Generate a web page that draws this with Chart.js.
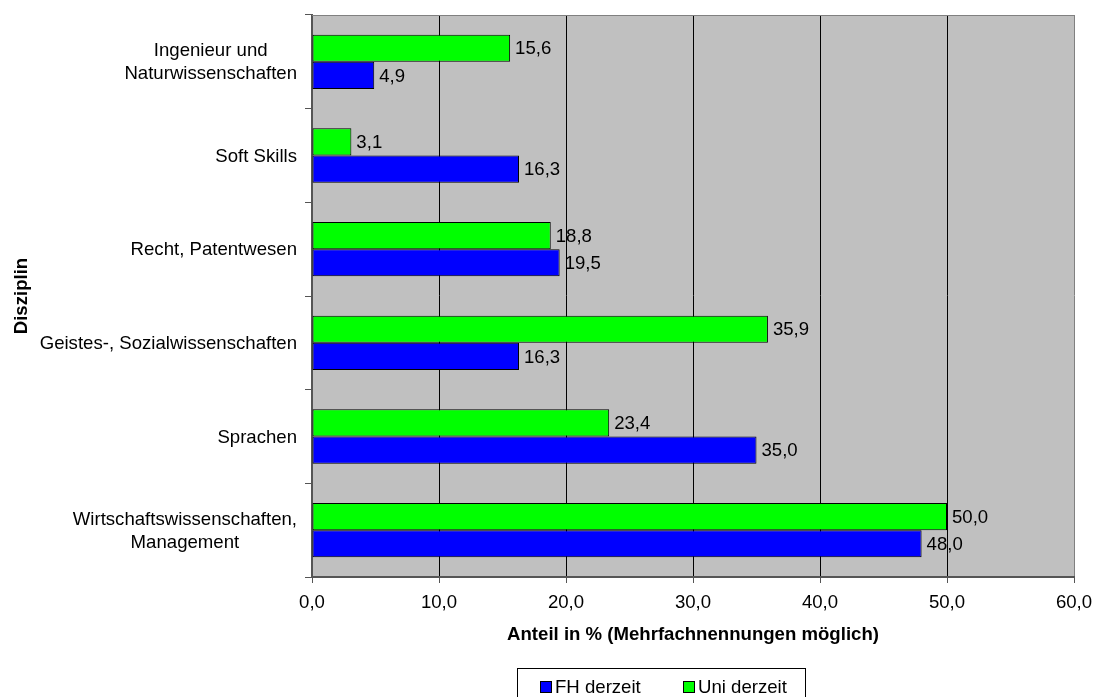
<!DOCTYPE html>
<html>
<head>
<meta charset="utf-8">
<script src="https://cdn.jsdelivr.net/npm/chart.js@4.4.0/dist/chart.umd.min.js"></script>
<style>
  body { margin: 0; background: #fff; }
  #wrap { width: 1094px; height: 697px; position: relative; }
</style>
</head>
<body>
<div id="wrap"><canvas id="myChart"></canvas></div>
<script>
var categories = [
    ["Ingenieur und", "Naturwissenschaften"],
    ["Soft Skills"],
    ["Recht, Patentwesen"],
    ["Geistes-, Sozialwissenschaften"],
    ["Sprachen"],
    ["Wirtschaftswissenschaften,", "Management"]
];
var fhValues  = [4.9, 16.3, 19.5, 16.3, 35.0, 48.0];
var uniValues = [15.6, 3.1, 18.8, 35.9, 23.4, 50.0];
var xTicks = [0, 10, 20, 30, 40, 50, 60];

var FONT = "'Liberation Sans', Arial, sans-serif";
var FS = 18.6;
Chart.defaults.font.family = FONT;
Chart.defaults.font.size = FS;
Chart.defaults.color = "#000";

function fmt(v) {
    return Number(v).toFixed(1).replace('.', ',');
}

// grey plot background + top border
var plotBg = {
    id: 'plotBg',
    beforeDraw: function(chart) {
        var a = chart.chartArea, c = chart.ctx;
        c.save();
        c.fillStyle = "#C0C0C0";
        c.fillRect(a.left, a.top, a.right - a.left, a.bottom - a.top);
        c.restore();
    },
    afterDraw: function(chart) {
        var a = chart.chartArea, c = chart.ctx;
        c.save();
        c.strokeStyle = "#808080";
        c.lineWidth = 1;
        c.beginPath();
        c.moveTo(a.left, a.top + 0.5);
        c.lineTo(a.right, a.top + 0.5);
        c.stroke();
        c.restore();
    }
};

// value labels at bar ends
var valueLabels = {
    id: 'valueLabels',
    afterDatasetsDraw: function(chart) {
        var c = chart.ctx;
        c.save();
        c.font = FS + "px " + FONT;
        c.fillStyle = "#000";
        c.textAlign = "left";
        c.textBaseline = "middle";
        chart.data.datasets.forEach(function(ds, i) {
            chart.getDatasetMeta(i).data.forEach(function(bar, j) {
                c.fillText(fmt(ds.data[j]), bar.x + 5, bar.y + 1);
            });
        });
        c.restore();
    }
};

// category labels: right aligned block, lines centered inside it
var catLabels = {
    id: 'catLabels',
    afterDraw: function(chart) {
        var c = chart.ctx, y = chart.scales.y;
        var right = 297, lh = 23;
        c.save();
        c.font = FS + "px " + FONT;
        c.fillStyle = "#000";
        c.textAlign = "center";
        c.textBaseline = "middle";
        categories.forEach(function(lines, i) {
            var w = 0;
            lines.forEach(function(l) { w = Math.max(w, c.measureText(l).width); });
            var cy = y.getPixelForValue(i);
            var y0 = cy - (lines.length - 1) * lh / 2;
            lines.forEach(function(l, k) {
                c.fillText(l, right - w / 2, y0 + k * lh + 1);
            });
        });
        c.restore();
    }
};

// framed legend under the axis title
var boxLegend = {
    id: 'boxLegend',
    afterDraw: function(chart) {
        var c = chart.ctx;
        var items = [
            { text: chart.data.datasets[1].label, color: chart.data.datasets[1].backgroundColor, x: 540 },
            { text: chart.data.datasets[0].label, color: chart.data.datasets[0].backgroundColor, x: 683 }
        ];
        var cy = 687;
        c.save();
        c.strokeStyle = "#000";
        c.lineWidth = 1;
        c.strokeRect(517.5, 668.5, 288, 40);
        c.font = FS + "px " + FONT;
        c.textBaseline = "middle";
        c.textAlign = "left";
        items.forEach(function(it) {
            c.fillStyle = it.color;
            c.fillRect(it.x, cy - 6, 12, 12);
            c.strokeRect(it.x + 0.5, cy - 5.5, 11, 11);
            c.fillStyle = "#000";
            c.fillText(it.text, it.x + 15, cy + 1);
        });
        c.restore();
    }
};

var ctx = document.getElementById("myChart").getContext("2d");

var data = {
    labels: categories,
    datasets: [
        {
            label: "Uni derzeit",
            backgroundColor: "#00FF00",
            borderColor: "#000",
            borderWidth: 1,
            borderSkipped: false,
            data: uniValues
        },
        {
            label: "FH derzeit",
            backgroundColor: "#0000FF",
            borderColor: "#000",
            borderWidth: 1,
            borderSkipped: false,
            data: fhValues
        }
    ]
};

var config = {
    type: 'bar',
    data: data,
    plugins: [plotBg, valueLabels, catLabels, boxLegend],
    options: {
        indexAxis: 'y',
        responsive: true,
        maintainAspectRatio: false,
        animation: false,
        categoryPercentage: 0.58,
        barPercentage: 1.0,
        layout: { padding: { top: 15, right: 20, left: 0, bottom: 0 } },
        plugins: {
            legend: { display: false },
            tooltip: { enabled: false }
        },
        scales: {
            x: {
                min: 0,
                max: 60,
                afterBuildTicks: function(scale) {
                    scale.ticks = xTicks.map(function(v) { return { value: v }; });
                },
                afterFit: function(scale) {
                    scale.height = 120;
                    scale.paddingLeft = 0;
                    scale.paddingRight = 0;
                },
                ticks: {
                    callback: function(v) { return fmt(v); },
                    padding: 9,
                    maxRotation: 0
                },
                grid: {
                    color: function(c) { return c.tick && c.tick.value === 60 ? "#808080" : "#000"; },
                    tickColor: "#555",
                    tickLength: 6,
                    lineWidth: 1
                },
                border: { color: "#555", width: 2 },
                title: {
                    display: true,
                    text: "Anteil in % (Mehrfachnennungen möglich)",
                    font: { size: FS, weight: 'bold' },
                    padding: { top: 0, bottom: 51 }
                }
            },
            y: {
                afterFit: function(scale) {
                    scale.width = 312;
                    scale.paddingTop = 0;
                    scale.paddingBottom = 0;
                },
                ticks: { display: false },
                grid: {
                    drawOnChartArea: false,
                    tickColor: "#555",
                    tickLength: 7
                },
                border: { color: "#555", width: 2 },
                title: {
                    display: true,
                    text: "Disziplin",
                    font: { size: FS, weight: 'bold' },
                    padding: { top: 11, bottom: 0 }
                }
            }
        }
    }
};

var myChart = new Chart(ctx, config);
</script>
</body>
</html>
